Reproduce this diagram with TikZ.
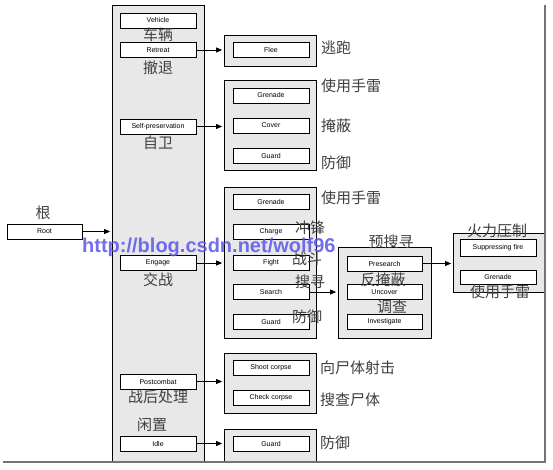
\documentclass[tikz,border=0pt]{standalone}
\usepackage{fontspec}
\setmainfont{Liberation Sans}
\newfontfamily\cjk{Noto Sans CJK SC}
\usetikzlibrary{arrows.meta}

\tikzset{
	grp/.style={draw, line width=0.8pt, fill=black!9, inner sep=0pt},
	item/.style={draw, line width=0.7pt, fill=white, minimum width=76pt, minimum height=15pt, inner sep=0pt, font=\fontsize{7}{7}\selectfont},
	lab/.style={font=\cjk\fontsize{15}{15}\selectfont, text=black!75, inner sep=0pt},
	arr/.style={line width=0.7pt, -{Triangle[length=6pt,width=5pt]}, shorten >=1.5pt},
	wm/.style={font=\bfseries\fontsize{20}{20}\selectfont, text={rgb,255:red,90;green,85;blue,235}, opacity=0.85, inner sep=0pt}
}

\begin{document}
\begin{tikzpicture}[x=1pt,y=-1pt]
	\useasboundingbox[fill=white] (0,0) rectangle (553,470);

	\node[grp, minimum width=92pt, minimum height=457pt] (col) at (158,233.5) {};
	\node[grp, minimum width=92pt, minimum height=31pt] (gflee) at (270,50.5) {};
	\node[grp, minimum width=92pt, minimum height=90pt] (gself) at (270,125) {};
	\node[grp, minimum width=92pt, minimum height=151pt] (geng) at (270,262.5) {};
	\node[grp, minimum width=93pt, minimum height=91pt] (gsearch) at (384.5,292.5) {};
	\node[grp, minimum width=91pt, minimum height=59pt] (gsup) at (498.5,262.5) {};
	\node[grp, minimum width=92pt, minimum height=60pt] (gpost) at (270,383) {};
	\node[grp, minimum width=92pt, minimum height=33pt] (gidle) at (270,445.5) {};

	\draw[line width=1.5pt, color=black!55] (3,462) -- (545,462) -- (545,5);

	\node[item, minimum width=75pt] (root) at (44.5,231.5) {Root};
	\foreach \n/\y/\t in {vehicle/20.5/Vehicle, retreat/50/Retreat, selfp/126.5/Self-preservation, engage/263/Engage, post/381.5/Postcombat, idle/443.5/Idle}
		\node[item] (\n) at (158,\y) {\t};

	\node[item] (flee) at (271,50) {Flee};
	\foreach \n/\y/\t in {sgren/95.5/Grenade, scover/125.5/Cover, sguard/155.5/Guard}
		\node[item] (\n) at (271,\y) {\t};
	\foreach \n/\y/\t in {egren/202/Grenade, echarge/231.5/Charge, efight/262.5/Fight, esearch/292/Search, eguard/322/Guard}
		\node[item] (\n) at (271,\y) {\t};
	\foreach \n/\y/\t in {presearch/263.5/Presearch, uncover/292/Uncover, investigate/322/Investigate}
		\node[item, minimum width=75pt] (\n) at (384.5,\y) {\t};
	\node[item, minimum height=17pt] (supfire) at (498,247.5) {Suppressing fire};
	\node[item, minimum height=14pt] (supgren) at (498,277) {Grenade};
	\node[item] (shoot) at (271,368) {Shoot corpse};
	\node[item] (check) at (271,397.5) {Check corpse};
	\node[item] (iguard) at (271,443.5) {Guard};

	\draw[arr] (root.east) -- (root.east -| col.west);
	\draw[arr] (retreat.east) -- (retreat.east -| gflee.west);
	\draw[arr] (selfp.east) -- (selfp.east -| gself.west);
	\draw[arr] (engage.east) -- (engage.east -| geng.west);
	\draw[arr] (esearch.east) -- (esearch.east -| gsearch.west);
	\draw[arr] (presearch.east) -- (presearch.east -| gsup.west);
	\draw[arr] (post.east) -- (post.east -| gpost.west);
	\draw[arr] (idle.east) -- (idle.east -| gidle.west);

	\node[lab] (lroot) at (43,213) {根};
	\node[lab] (lvehicle) at (158,35) {车辆};
	\node[lab] (lretreat) at (158,68) {撤退};
	\node[lab] (lselfp) at (158,143) {自卫};
	\node[lab] (lengage) at (158,280) {交战};
	\node[lab] (lpost) at (158,397) {战后处理};
	\node[lab] (lidle) at (152,425) {闲置};

	\node[lab, anchor=west] (lflee) at (321,48) {逃跑};
	\node[lab, anchor=west] (lsgren) at (321,86) {使用手雷};
	\node[lab, anchor=west] (lscover) at (321,126) {掩蔽};
	\node[lab, anchor=west] (lsguard) at (321,163) {防御};
	\node[lab, anchor=west] (legren) at (321,198) {使用手雷};
	\node[lab, anchor=west] (lecharge) at (295,228) {冲锋};
	\node[lab, anchor=west] (lefight) at (292,259) {战斗};
	\node[lab, anchor=west] (lesearch) at (295,282) {搜寻};
	\node[lab, anchor=west] (leguard) at (292,317) {防御};
	\node[lab] (lpresearch) at (391,242) {预搜寻};
	\node[lab] (luncover) at (383,280) {反掩蔽};
	\node[lab] (linvest) at (392,307) {调查};
	\node[lab] (lsupfire) at (497,231) {火力压制};
	\node[lab] (lsupgren) at (500,292) {使用手雷};
	\node[lab, anchor=west] (lshoot) at (320,368) {向尸体射击};
	\node[lab, anchor=west] (lcheck) at (320,400) {搜查尸体};
	\node[lab, anchor=west] (liguard) at (320,443) {防御};

	\node[wm, anchor=base west] (url) at (82,252) {http://blog.csdn.net/wolf96};
\end{tikzpicture}
\end{document}
